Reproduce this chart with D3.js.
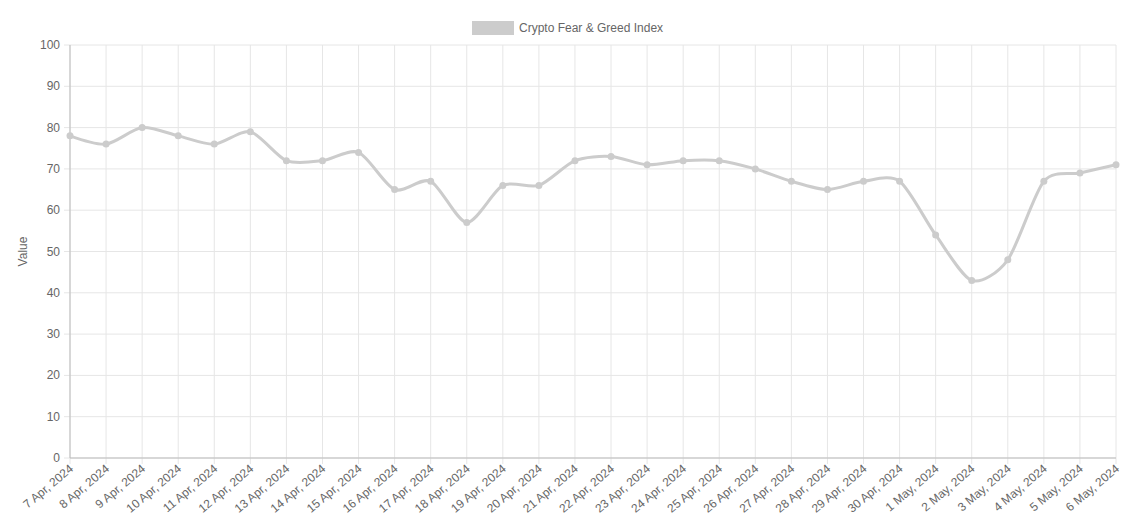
<!DOCTYPE html>
<html><head><meta charset="utf-8">
<script src="https://cdn.jsdelivr.net/npm/d3@7"></script>
<style>body{margin:0;background:#fff}svg{font-family:"Liberation Sans",Arial,sans-serif}</style>
</head><body><svg id="c" width="1135" height="522"></svg>
<script>
const categories=["7 Apr, 2024","8 Apr, 2024","9 Apr, 2024","10 Apr, 2024","11 Apr, 2024","12 Apr, 2024","13 Apr, 2024","14 Apr, 2024","15 Apr, 2024","16 Apr, 2024","17 Apr, 2024","18 Apr, 2024","19 Apr, 2024","20 Apr, 2024","21 Apr, 2024","22 Apr, 2024","23 Apr, 2024","24 Apr, 2024","25 Apr, 2024","26 Apr, 2024","27 Apr, 2024","28 Apr, 2024","29 Apr, 2024","30 Apr, 2024","1 May, 2024","2 May, 2024","3 May, 2024","4 May, 2024","5 May, 2024","6 May, 2024"];
const values=[78,76,80,78,76,79,72,72,74,65,67,57,66,66,72,73,71,72,72,70,67,65,67,67,54,43,48,67,69,71];
const yTicks=[0,10,20,30,40,50,60,70,80,90,100];
const seriesName="Crypto Fear & Greed Index";
const svg=d3.select("#c");
const L=70,R=1116,T=45,B=458,col="#cccccc",tc="#666";
const x=d3.scalePoint().domain(categories).range([L,R]);
const y=d3.scaleLinear().domain([0,100]).range([B,T]);
const g=svg.append("g");
g.selectAll(".v").data(categories).join("line").attr("x1",d=>x(d)).attr("x2",d=>x(d)).attr("y1",T).attr("y2",B+6).attr("stroke","#e6e6e6");
g.selectAll(".h").data(yTicks).join("line").attr("x1",L-6).attr("x2",R).attr("y1",d=>y(d)).attr("y2",d=>y(d)).attr("stroke","#e6e6e6");
g.append("line").attr("x1",L).attr("x2",L).attr("y1",T).attr("y2",B).attr("stroke","#bbb");
g.append("line").attr("x1",L).attr("x2",R).attr("y1",B).attr("y2",B).attr("stroke","#bbb");
g.selectAll(".yl").data(yTicks).join("text").attr("x",L-10).attr("y",d=>y(d)+4).attr("text-anchor","end").attr("font-size",12).attr("fill",tc).text(d=>d);
g.selectAll(".xl").data(categories).join("text").attr("transform",d=>`translate(${x(d)+4},${B+12}) rotate(-40)`).attr("text-anchor","end").attr("font-size",12).attr("fill",tc).text(d=>d);
svg.append("text").attr("transform",`translate(27,${(T+B)/2}) rotate(-90)`).attr("text-anchor","middle").attr("font-size",12).attr("fill",tc).text("Value");
const line=d3.line().x((d,i)=>x(categories[i])).y(d=>y(d)).curve(d3.curveCardinal.tension(0.2));
svg.append("path").datum(values).attr("d",line).attr("fill","none").attr("stroke",col).attr("stroke-width",3);
svg.selectAll(".p").data(values).join("circle").attr("cx",(d,i)=>x(categories[i])).attr("cy",d=>y(d)).attr("r",3.5).attr("fill",col);
svg.append("rect").attr("x",472).attr("y",21).attr("width",42).attr("height",14).attr("fill",col);
svg.append("text").attr("x",519).attr("y",32).attr("font-size",12).attr("fill",tc).text(seriesName);
</script></body></html>
